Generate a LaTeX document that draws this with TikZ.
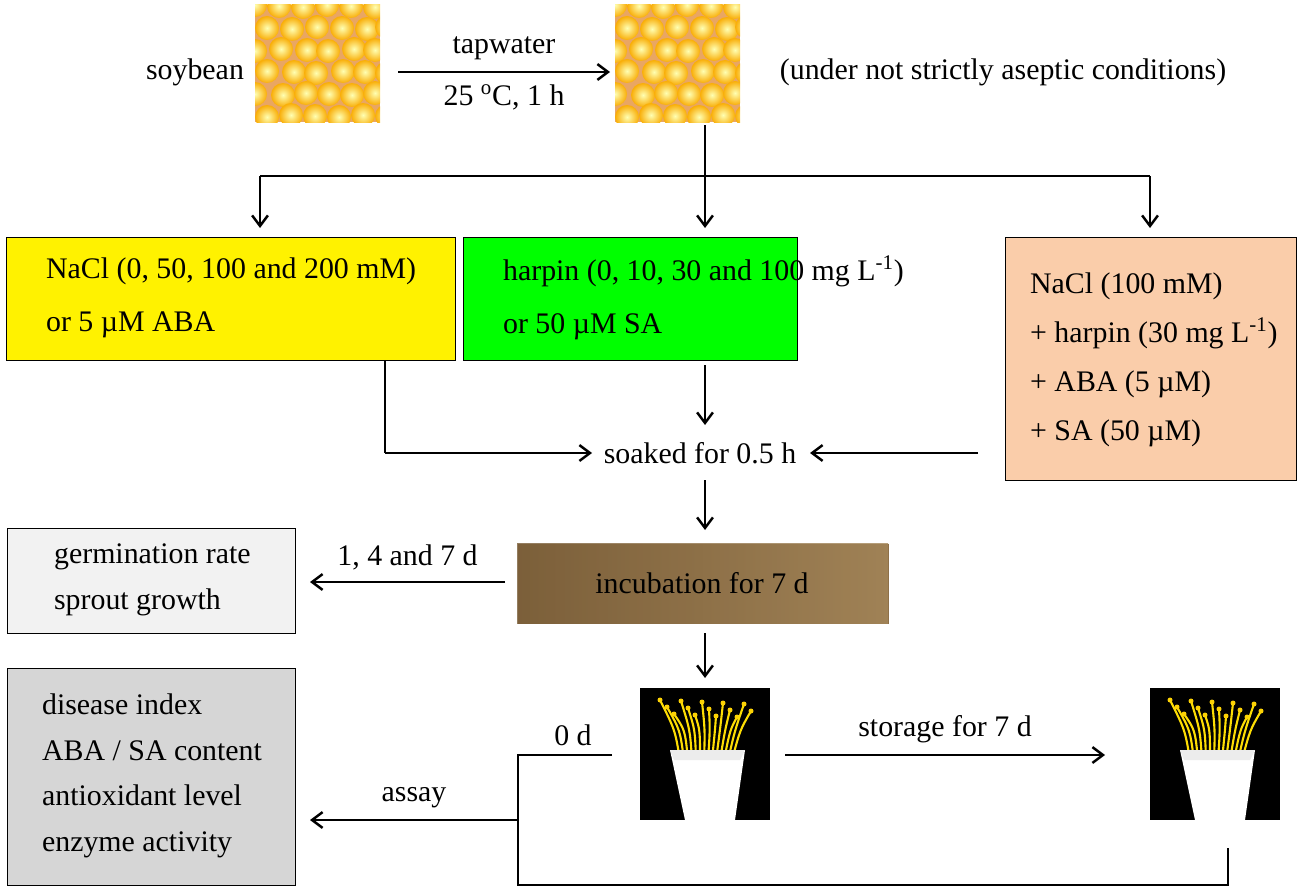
\documentclass[tikz,border=0pt]{standalone}
\usepackage{fontspec}
\setmainfont{Liberation Serif}
\usetikzlibrary{arrows.meta}
\begin{document}
\begin{tikzpicture}[x=0.02cm,y=-0.02cm,font=\fontsize{17}{20}\selectfont,
 arr/.style={->,>={Straight Barb[length=6pt,width=9pt]},line width=1.4pt},
 ln/.style={line width=1.4pt},
 box/.style={draw,line width=0.8pt,anchor=north west,inner sep=0pt},
 txt/.style={inner sep=1pt}]
\useasboundingbox (0,0) rectangle (1300,892);
% soybean pictures
\foreach \X/\n in {255/s1,615/s2}{
 \fill[orange!50!brown!70] (\X,5) rectangle ++(125,117);
 \begin{scope}
 \clip (\X,5) rectangle ++(125,117);
 \foreach \i in {0,...,5}{\foreach \j in {0,...,5}{
   \shade[inner color=yellow!30!white,outer color=orange!60!yellow!90!brown] ({\X+\i*24+mod(\j,2)*12+mod(\i*\j,5)},{5+\j*22+mod(\i+\j,3)}) circle (12);}}
 \end{scope}
 \node[minimum width=125*0.02cm,minimum height=117*0.02cm,anchor=north west,inner sep=0pt] (\n) at (\X,5) {};
}
\node[txt] (soy) at (195,72) {soybean};
\node[txt] (cond) at (1003,72) {(under not strictly aseptic conditions)};
\coordinate (a1) at (398,72); \coordinate (a2) at (610,72);
\draw[arr] (a1) -- node[above=3pt]{tapwater} node[below=3pt]{25 \textsuperscript{o}C, 1 h} (a2);
% split
\coordinate (b0) at (705,125); \coordinate (bm) at (705,176);
\coordinate (bl) at (260,176); \coordinate (br) at (1150,176);
\coordinate (bld) at (260,228); \coordinate (bmd) at (705,228); \coordinate (brd) at (1150,228);
\draw[ln] (bl) -- (br);
\draw[arr] (b0) -- (bmd); \draw[arr] (bl) -- (bld); \draw[arr] (br) -- (brd);
% boxes
\node[box,fill=yellow,minimum width=449*0.02cm,minimum height=123*0.02cm] (y) at (6,237) {};
\node[anchor=west,align=left,txt] at (44,298) {NaCl (0, 50, 100 and 200 mM)\\[10pt]or 5 \textmu M ABA};
\node[box,fill=green,minimum width=334*0.02cm,minimum height=123*0.02cm] (g) at (463,237) {};
\node[anchor=west,align=left,txt] at (501,298) {harpin (0, 10, 30 and 100 mg L\textsuperscript{-1})\\[10pt]or 50 \textmu M SA};
\node[box,fill={rgb,255:red,250;green,205;blue,170},minimum width=291*0.02cm,minimum height=243*0.02cm] (p) at (1005,237) {};
\node[anchor=west,align=left,txt] at (1028,360) {NaCl (100 mM)\\[8pt]+ harpin (30 mg L\textsuperscript{-1})\\[8pt]+ ABA (5 \textmu M)\\[8pt]+ SA (50 \textmu M)};
% soaked
\node[txt] (soak) at (700,453) {soaked for 0.5 h};
\coordinate (c1) at (385,360); \coordinate (c2) at (385,453); \coordinate (c3) at (592,453);
\draw[ln] (c1) -- (c2); \draw[arr] (c2) -- (c3);
\coordinate (d1) at (705,365); \coordinate (d2) at (705,425);
\draw[arr] (d1) -- (d2);
\coordinate (e1) at (978,453); \coordinate (e2) at (810,453);
\draw[arr] (e1) -- (e2);
\coordinate (f1) at (705,480); \coordinate (f2) at (705,530);
\draw[arr] (f1) -- (f2);
% incubation
\node[box,draw=none,fill={rgb,255:red,140;green,110;blue,70},minimum width=371*0.02cm,minimum height=80*0.02cm] (inc) at (517,543) {};
\shade[left color={rgb,255:red,120;green,92;blue,55},right color={rgb,255:red,165;green,135;blue,90},opacity=0.8] (517,543) rectangle (888,623);
\node[txt] at (702,583) {incubation for 7 d};
\coordinate (h1) at (505,582); \coordinate (h2) at (310,582);
\draw[arr] (h1) -- node[above=3pt]{1, 4 and 7 d} (h2);
\node[box,fill=gray!10,minimum width=288*0.02cm,minimum height=105*0.02cm] (gr) at (7,528) {};
\node[anchor=west,align=left,txt] at (52,580) {germination rate\\[6pt]sprout growth};
\coordinate (i1) at (705,633); \coordinate (i2) at (705,678);
\draw[arr] (i1) -- (i2);
% sprout pictures
\foreach \X/\n in {640/sp1,1150/sp2}{
 \fill[black] (\X,688) rectangle ++(130,132);
 \foreach \k in {0,...,13}{
   \draw[yellow!80!orange,line width=1.2pt] ({\X+40+\k*4},760) .. controls ({\X+35+\k*5},730) .. ({\X+20+\k*7},{700+mod(\k*7,20)});
   \fill[yellow!70!orange] ({\X+20+\k*7},{700+mod(\k*7,20)}) circle (2.5);}
 \fill[white] (\X+30,750) -- (\X+105,750) -- (\X+95,820) -- (\X+45,820) -- cycle;
 \fill[gray!15] (\X+30,750) -- (\X+105,750) -- (\X+100,760) -- (\X+34,760) -- cycle;
 \node[minimum width=130*0.02cm,minimum height=132*0.02cm,anchor=north west,inner sep=0pt] (\n) at (\X,688) {};
}
\coordinate (j1) at (785,755); \coordinate (j2) at (1105,755);
\draw[arr] (j1) -- node[above=3pt]{storage for 7 d} (j2);
\coordinate (k1) at (612,755); \coordinate (k2) at (518,755); \coordinate (k3) at (518,885);
\coordinate (k4) at (1228,885); \coordinate (k5) at (1228,848);
\draw[ln] (k1) -- (k2) -- (k3) -- (k4) -- (k5);
\node[txt] at (573,735) {0 d};
\coordinate (l1) at (518,820); \coordinate (l2) at (310,820);
\draw[arr] (l1) -- node[above=3pt]{assay} (l2);
\node[box,fill=gray!32,minimum width=288*0.02cm,minimum height=217*0.02cm] (as) at (7,668) {};
\node[anchor=west,align=left,txt] at (40,776) {disease index\\[6pt]ABA / SA content\\[6pt]antioxidant level\\[6pt]enzyme activity};
\end{tikzpicture}
\end{document}
